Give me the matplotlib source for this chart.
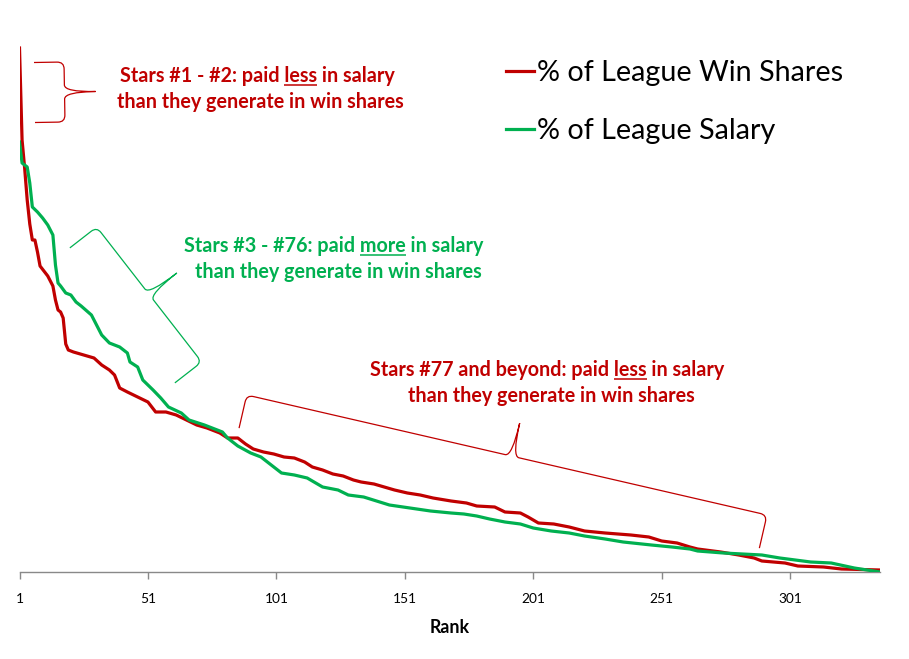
import matplotlib
matplotlib.use("Agg")
import matplotlib.pyplot as plt
from matplotlib.path import Path
from matplotlib.patches import PathPatch
import numpy as np

# ---------------- data ----------------
ws_rank = [1, 2, 3, 4, 5, 6, 7, 8, 9, 12, 14, 15, 16, 17, 18, 19, 20, 22, 26, 30, 33, 36, 38,
           40, 43, 47, 51, 54, 58, 62, 66, 70, 74, 79, 82, 86, 89, 92, 96, 100, 104, 108,
           112, 115, 119, 123, 127, 131, 134, 139, 143, 147, 152, 157, 162, 169, 175, 179,
           186, 190, 196, 199, 203, 209, 215, 221, 229, 239, 246, 251, 257, 262, 265, 274,
           281, 287, 290, 299, 304, 314, 321, 336]
ws_pct = [1.31, 1.08, 1.01, 0.93, 0.87, 0.83, 0.83, 0.80, 0.765, 0.74, 0.715, 0.68, 0.655,
          0.65, 0.635, 0.57, 0.555, 0.55, 0.5425, 0.535, 0.5175, 0.505, 0.4925, 0.46, 0.45,
          0.4375, 0.425, 0.40, 0.40, 0.3925, 0.38, 0.3675, 0.36, 0.3475, 0.335, 0.335, 0.32,
          0.3075, 0.30, 0.295, 0.2875, 0.285, 0.275, 0.2625, 0.255, 0.245, 0.24, 0.23, 0.225,
          0.22, 0.2125, 0.205, 0.1975, 0.1925, 0.185, 0.1775, 0.1725, 0.165, 0.1625, 0.15,
          0.1475, 0.1375, 0.1225, 0.12, 0.1125, 0.1025, 0.0975, 0.0925, 0.0875, 0.0775,
          0.0725, 0.0625, 0.0575, 0.05, 0.0425, 0.035, 0.0275, 0.0225, 0.015, 0.0125,
          0.0075, 0.005]

sal_rank = [1, 2, 3, 4, 5, 6, 8, 10, 12, 14, 15, 16, 17, 19, 21, 23, 25, 29, 33, 36, 40, 43,
            44, 47, 49, 53, 56, 59, 64, 67, 73, 76, 80, 82, 86, 91, 95, 99, 103, 108, 113,
            119, 125, 129, 135, 140, 145, 153, 161, 169, 174, 179, 184, 190, 196, 201, 208,
            215, 221, 229, 236, 247, 255, 262, 265, 275, 290, 297, 309, 317, 326, 336]
sal_pct = [1.075, 1.0225, 1.0175, 1.0125, 0.9725, 0.9125, 0.90, 0.885, 0.8675, 0.8425,
           0.7675, 0.7225, 0.715, 0.6975, 0.6925, 0.675, 0.665, 0.6425, 0.5925, 0.5725,
           0.5625, 0.5475, 0.525, 0.5125, 0.48, 0.455, 0.435, 0.4125, 0.3975, 0.38, 0.3675,
           0.36, 0.35, 0.335, 0.315, 0.2975, 0.2875, 0.2675, 0.2475, 0.2425, 0.235, 0.2125,
           0.205, 0.1925, 0.1875, 0.1775, 0.1675, 0.16, 0.1525, 0.1475, 0.145, 0.14, 0.1325,
           0.125, 0.12, 0.11, 0.1025, 0.0975, 0.09, 0.0825, 0.075, 0.0675, 0.0625, 0.0575,
           0.0525, 0.0475, 0.0425, 0.035, 0.025, 0.0225, 0.01, 0.0]

tick_ranks = [1, 51, 101, 151, 201, 251, 301]
tick_labels = ["1", "51", "101", "151", "201", "251", "301"]

ws_label = "% of League Win Shares"
sal_label = "% of League Salary"

notes = [
    # (pre, underlined word, post, second line)
    ("Stars #1 - #2: paid ", "less", " in salary", "than they generate in win shares"),
    ("Stars #3 - #76: paid ", "more", " in salary", "than they generate in win shares"),
    ("Stars #77 and beyond: paid ", "less", " in salary", "than they generate in win shares"),
]

# ---------------- styling ----------------
FONT = ["Lato", "DejaVu Sans"]
RED = "#C00000"
GREEN = "#00B050"
AXIS_GREY = "#898989"
W, H = 909, 659

plt.rcParams["font.family"] = FONT

fig = plt.figure(figsize=(W / 100, H / 100), dpi=100)
renderer = fig.canvas.get_renderer()


def text_width(s, size, weight="normal"):
    t = fig.text(0, 0, s, fontsize=size, fontweight=weight)
    w = t.get_window_extent(renderer).width
    t.remove()
    return w


def fit_size(s, target_px, weight="normal", base=20.0):
    return base * target_px / text_width(s, base, weight)


# main axes placed in pixel terms
ax_l, ax_r, ax_b, ax_t = 19.5, 880.0, 572.0, 40.0
ax = fig.add_axes([ax_l / W, (H - ax_b) / H, (ax_r - ax_l) / W, (ax_b - ax_t) / H])
ax.plot(ws_rank, ws_pct, color=RED, lw=2.3, solid_joinstyle="round", zorder=3, label=ws_label)
ax.plot(sal_rank, sal_pct, color=GREEN, lw=2.3, solid_joinstyle="round", zorder=4, label=sal_label)
ax.set_xlim(1, 336)
ax.set_ylim(0, (ax_b - ax_t) / 400.0)
for s in ("left", "top", "right"):
    ax.spines[s].set_visible(False)
ax.spines["bottom"].set_color(AXIS_GREY)
ax.spines["bottom"].set_linewidth(1.0)
ax.set_yticks([])
ax.set_xticks(tick_ranks)
ax.set_xticklabels(tick_labels)
tick_size = fit_size("301", 24)
ax.tick_params(axis="x", direction="out", length=5, width=1, color=AXIS_GREY,
               pad=10, labelsize=tick_size, labelcolor="black")
ax.set_xlabel("Rank", fontsize=fit_size("Rank", 40, "bold"), fontweight="bold", labelpad=10)
ax.patch.set_alpha(0)

# legend
leg_size = fit_size(ws_label, 307)
leg_px = leg_size * 100 / 72
leg = ax.legend(loc="upper left", bbox_to_anchor=(506 / W, 1 - 60 / H),
                bbox_transform=fig.transFigure, frameon=False, fontsize=leg_size,
                handlelength=28 / leg_px, handletextpad=3 / leg_px,
                labelspacing=(61.0 - leg_px * 1.0) / leg_px, borderaxespad=0, borderpad=0)

# overlay in pixel coordinates for annotations
ov = fig.add_axes([0, 0, 1, 1], zorder=5)
ov.set_xlim(0, W)
ov.set_ylim(H, 0)
ov.axis("off")
ov.patch.set_alpha(0)

note_size = fit_size(notes[0][3], 286, "bold")

# (center x line1, baseline line1, center x line2, baseline line2, colour)
note_pos = [
    (257, 82, 260, 108, RED),
    (334, 252, 338, 277.5, GREEN),
    (547.5, 376, 551.5, 401.5, RED),
]

for (pre, word, post, line2), (cx1, b1, cx2, b2, col) in zip(notes, note_pos):
    full = pre + word + post
    ov.text(cx1, b1, full, ha="center", va="baseline", fontsize=note_size,
            fontweight="bold", color=col)
    ov.text(cx2, b2, line2, ha="center", va="baseline", fontsize=note_size,
            fontweight="bold", color=col)
    wf = text_width(full, note_size, "bold")
    x0 = cx1 - wf / 2
    x_end = x0 + text_width(pre + word, note_size, "bold")
    x_start = x_end - text_width(word, note_size, "bold")
    ov.plot([x_start, x_end], [b1 + 2.8, b1 + 2.8], color=col, lw=1.1,
            solid_capstyle="butt")


def brace(s0, s1, arm, tip, color, r=7.0, tip_frac=0.5):
    s0 = np.asarray(s0, float)
    s1 = np.asarray(s1, float)
    L = np.linalg.norm(s1 - s0)
    u = (s1 - s0) / L
    n = np.array([-u[1], u[0]])  # points toward arm ends
    m = tip_frac * L

    def P(a, b):  # a along spine, b toward tip
        return s0 + a * u - b * n

    verts = [P(0, -arm), P(0, -r), P(0, 0), P(r, 0), P(m - r, 0), P(m, 0), P(m, tip),
             P(m, 0), P(m + r, 0), P(L - r, 0), P(L, 0), P(L, -r), P(L, -arm)]
    codes = [Path.MOVETO, Path.LINETO, Path.CURVE3, Path.CURVE3, Path.LINETO,
             Path.CURVE3, Path.CURVE3, Path.CURVE3, Path.CURVE3, Path.LINETO,
             Path.CURVE3, Path.CURVE3, Path.LINETO]
    ov.add_patch(PathPatch(Path(verts, codes), fill=False, edgecolor=color, lw=0.9))


brace((64, 62), (65, 122), 30, 31, RED)
brace((96.7, 227), (201.7, 362), 34, 35, GREEN)
brace((246.7, 395), (767, 515), 34, 34, RED, tip_frac=0.51)

fig.savefig("out.png", dpi=100)
